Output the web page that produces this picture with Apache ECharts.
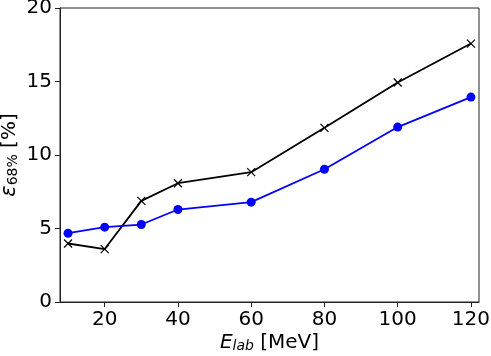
<!DOCTYPE html>
<html>
<head>
<meta charset="utf-8">
<script src="https://cdn.jsdelivr.net/npm/echarts@6/dist/echarts.min.js"></script>
<style>
  html, body { margin: 0; padding: 0; background: #fff; }
  #chart { width: 491px; height: 356px; }
</style>
</head>
<body>
<div id="chart"></div>
<script>
  // beam energies [MeV]
  let energies = [10, 20, 30, 40, 60, 80, 100, 120]
  // black crosses
  let crossValues = [3.98, 3.6, 6.88, 8.08, 8.83, 11.85, 14.93, 17.58]
  // blue dots
  let dotValues = [4.68, 5.09, 5.27, 6.29, 6.79, 9.03, 11.9, 13.94]
  let xTicks = [20, 40, 60, 80, 100, 120]

  let font = 'DejaVu Sans'
  let crossPath = 'path://M0,0L10,10M10,0L0,10'

  let myChart = echarts.init(document.getElementById('chart'))
  let option = {
    animation: false,
    grid: {
      show: true,
      left: 60,
      right: 12,
      top: 8,
      bottom: 54,
      containLabel: false,
      outerBoundsMode: 'none',
      borderColor: '#222',
      borderWidth: 1
    },
    xAxis: {
      type: 'value',
      min: 7.8,
      max: 122.2,
      name: '{e|E}{s|lab}{n| [MeV]}',
      nameLocation: 'middle',
      nameGap: 29,
      nameMoveOverlap: false,
      nameTextStyle: {
        rich: {
          e: { fontFamily: font, fontStyle: 'italic', fontSize: 20, color: '#000', verticalAlign: 'bottom', lineHeight: 22 },
          s: { fontFamily: font, fontStyle: 'italic', fontSize: 14, color: '#000', verticalAlign: 'bottom', lineHeight: 16 },
          n: { fontFamily: font, fontSize: 20, color: '#000', verticalAlign: 'bottom', lineHeight: 22 }
        }
      },
      axisLine: { show: true, onZero: false, lineStyle: { color: '#222', width: 1 } },
      axisTick: { show: true, length: 5, customValues: xTicks, lineStyle: { color: '#222' } },
      axisLabel: { customValues: xTicks, fontFamily: font, fontSize: 20, color: '#000', margin: 8 },
      splitLine: { show: false }
    },
    yAxis: {
      type: 'value',
      min: 0,
      max: 20,
      interval: 5,
      name: '{e|ε}{s|68%}{n| [%]}',
      nameLocation: 'middle',
      nameGap: 40,
      nameMoveOverlap: false,
      nameTextStyle: {
        rich: {
          e: { fontFamily: font, fontStyle: 'italic', fontSize: 21, color: '#000', verticalAlign: 'bottom', lineHeight: 20 },
          s: { fontFamily: font, fontSize: 14, color: '#000', verticalAlign: 'bottom', lineHeight: 14 },
          n: { fontFamily: font, fontSize: 20, color: '#000', verticalAlign: 'bottom', lineHeight: 20 }
        }
      },
      axisLine: { show: true, lineStyle: { color: '#222', width: 1 } },
      axisTick: { show: true, length: 5, lineStyle: { color: '#222' } },
      axisLabel: { fontFamily: font, fontSize: 20, color: '#000', margin: 8 },
      splitLine: { show: false }
    },
    series: [{
      name: 'cross',
      type: 'line',
      data: energies.map(function (e, i) { return [e, crossValues[i]] }),
      symbol: crossPath,
      symbolSize: 8,
      lineStyle: { color: '#000', width: 1.8 },
      itemStyle: { color: 'rgba(0,0,0,0)', borderColor: '#000', borderWidth: 1.2 },
      z: 2
    }, {
      name: 'dot',
      type: 'line',
      data: energies.map(function (e, i) { return [e, dotValues[i]] }),
      symbol: 'circle',
      symbolSize: 9,
      lineStyle: { color: '#0000ff', width: 1.8 },
      itemStyle: { color: '#0000ff', borderWidth: 0 },
      z: 3
    }]
  }
  myChart.setOption(option)
</script>
</body>
</html>
